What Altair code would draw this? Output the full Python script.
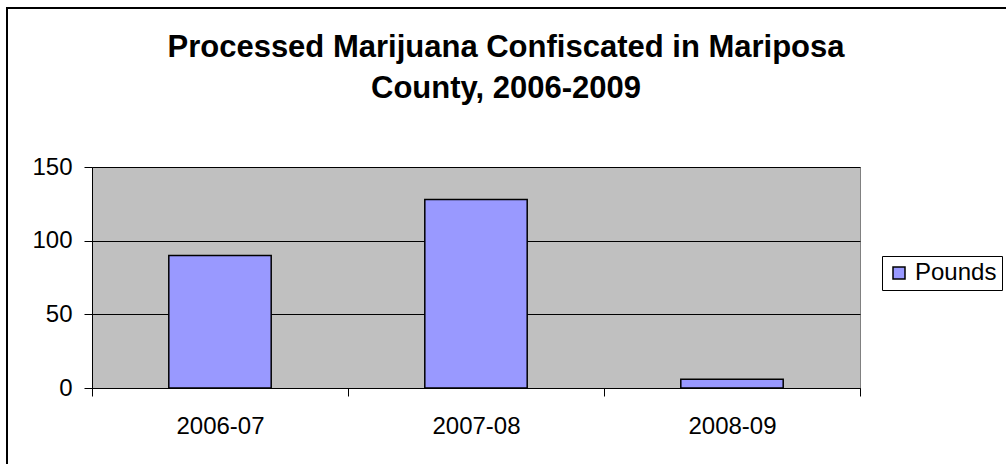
import altair as alt
import pandas as pd

# ---- data ----
seasons = ["2006-07", "2007-08", "2008-09"]
pounds = [90, 128, 6]
series = ["Pounds", "Pounds", "Pounds"]
y_ticks = [0, 50, 100, 150]
title_lines = ["Processed Marijuana Confiscated in Mariposa", "County, 2006-2009"]

df = pd.DataFrame({"season": seasons, "pounds": pounds, "series": series})

FONT = "Liberation Sans"
W, H = 768, 221

# outer chart frame (decoration)
frame = alt.Chart(pd.DataFrame({"k": [0]})).mark_rect(
    fill="white", fillOpacity=0, stroke="black", strokeWidth=2, clip=False
).encode(
    x=alt.value(-85), x2=alt.value(940), y=alt.value(-159), y2=alt.value(320)
)

# chart title as text
title = alt.Chart(pd.DataFrame({"k": [0]})).mark_text(
    text=title_lines, font=FONT, fontSize=31, fontWeight="bold", color="black",
    align="center", baseline="alphabetic", lineHeight=41, clip=False,
).encode(x=alt.value(414), y=alt.value(-110))

bars = alt.Chart(df).mark_bar(
    width=alt.RelativeBandSize(0.4), stroke="black", strokeWidth=1.5
).encode(
    x=alt.X(
        "season:N", sort=seasons,
        scale=alt.Scale(paddingInner=0, paddingOuter=0),
        axis=alt.Axis(
            title=None, labelAngle=0, tickBand="extent", tickSize=8,
            labelFontSize=24, labelPadding=18, labelColor="black",
            domainColor="black", tickColor="black", labelFont=FONT,
        ),
    ),
    y=alt.Y(
        "pounds:Q",
        scale=alt.Scale(domain=[0, 150], nice=False),
        axis=alt.Axis(
            values=y_ticks, title=None, tickSize=8, grid=True,
            gridColor="black", gridWidth=1, gridOpacity=1,
            labelFontSize=24, labelPadding=12, labelColor="black",
            domainColor="black", tickColor="black", labelFont=FONT,
        ),
    ),
    color=alt.Color(
        "series:N",
        scale=alt.Scale(range=["#9999FF"]),
        legend=alt.Legend(
            title=None, orient="none", legendX=790, legendY=89,
            strokeColor="black", fillColor="white", padding=5,
            symbolType="square", symbolSize=144, symbolStrokeColor="black",
            symbolStrokeWidth=1.5, symbolOpacity=1,
            labelFontSize=24, labelOffset=4, labelColor="black", labelFont=FONT,
        ),
    ),
)

chart = alt.layer(frame, title, bars).properties(
    width=W, height=H,
    autosize=alt.AutoSizeParams(type="none"),
    padding={"left": 92, "top": 167, "right": 146, "bottom": 76},
    background="white",
).configure_view(
    fill="#C0C0C0", stroke="#808080", strokeWidth=1
)

chart.save("out.html", embed_options={"renderer": "svg", "actions": False})
